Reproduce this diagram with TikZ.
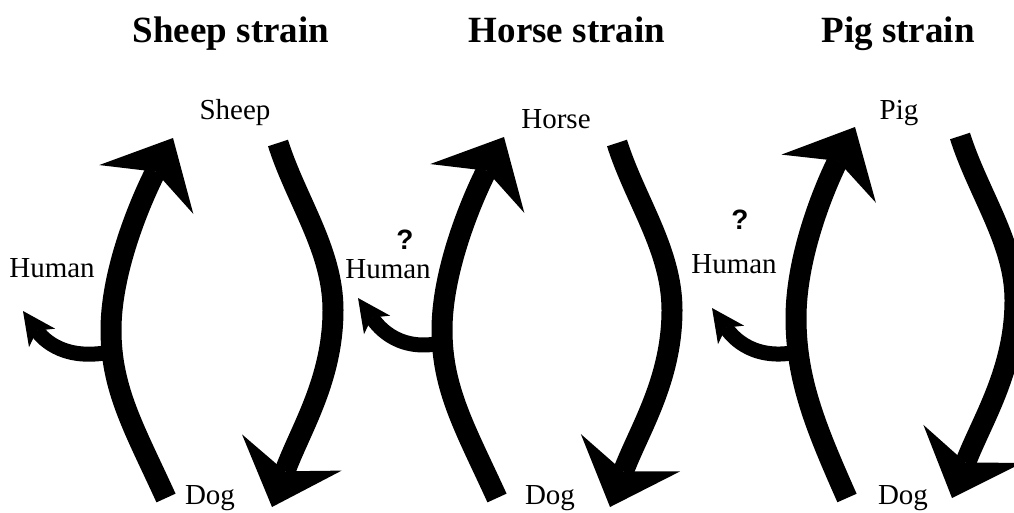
\documentclass[tikz,border=0pt]{standalone}
\usepackage{fontspec}
\setmainfont{Liberation Serif}
\newfontfamily\qfont{Liberation Sans}
\usetikzlibrary{arrows.meta}
\begin{document}
\begin{tikzpicture}[x=1pt,y=-1pt,
  title/.style={font=\fontsize{37}{40}\selectfont\bfseries, anchor=base, inner sep=0pt},
  lab/.style={font=\fontsize{29}{32}\selectfont, anchor=base, inner sep=0pt},
  qm/.style={font=\qfont\bfseries\fontsize{28}{30}\selectfont, anchor=base, inner sep=0pt},
  bigarrow/.style={line width=21pt, -{Stealth[length=58pt,width=106pt,inset=20pt,line width=0pt]}},
  smallarrow/.style={line width=15pt, -{Stealth[length=33pt,width=32pt,inset=9pt,line width=0pt]}}]
\useasboundingbox (0,0) rectangle (1014,512);
\clip (0,0) rectangle (1014,512);

% ---------- Panel 1: Sheep strain
\node[title] (t1) at (231,42) {Sheep strain};
\node[lab] (sheep) at (235,119) {Sheep};
\node[lab] (hum1) at (52,277) {Human};
\node[lab] (dog1) at (210,504) {Dog};
\coordinate (u1a) at (166,498);
\coordinate (u1m) at (111,330);
\coordinate (u1b) at (173,138);
\coordinate (w1a) at (278,143);
\coordinate (w1m) at (333,310);
\coordinate (w1b) at (272,507);
\coordinate (h1a) at (110,352);
\coordinate (h1b) at (23,311);
\draw[smallarrow] (h1a) .. controls (60,362) and (40,335) .. (h1b);
\draw[bigarrow] (u1a) .. controls (135,430) and (111,390) .. (u1m)
                      .. controls (111,265) and (146,190) .. (u1b);
\draw[bigarrow] (w1a) .. controls (296,200) and (333,250) .. (w1m)
                      .. controls (333,380) and (300,430) .. (w1b);

% ---------- Panel 2: Horse strain
\node[title] (t2) at (567,42) {Horse strain};
\node[lab] (horse) at (556,128) {Horse};
\node[lab] (hum2) at (388,278) {Human};
\node[qm] (q2) at (405,249) {?};
\node[lab] (dog2) at (550,504) {Dog};
\coordinate (u2a) at (497,498);
\coordinate (u2m) at (442,330);
\coordinate (u2b) at (504,137);
\coordinate (w2a) at (617,143);
\coordinate (w2m) at (672,310);
\coordinate (w2b) at (610,507);
\coordinate (h2a) at (441,343);
\coordinate (h2b) at (358,298);
\draw[smallarrow] (h2a) .. controls (395,353) and (375,322) .. (h2b);
\draw[bigarrow] (u2a) .. controls (466,430) and (442,390) .. (u2m)
                      .. controls (442,265) and (477,189) .. (u2b);
\draw[bigarrow] (w2a) .. controls (635,200) and (672,250) .. (w2m)
                      .. controls (672,380) and (639,430) .. (w2b);

% ---------- Panel 3: Pig strain
\node[title] (t3) at (898,42) {Pig strain};
\node[lab] (pig) at (899,119) {Pig};
\node[lab] (hum3) at (734,273) {Human};
\node[qm] (q3) at (740,229) {?};
\node[lab] (dog3) at (903,504) {Dog};
\coordinate (u3a) at (847,498);
\coordinate (u3m) at (796,318);
\coordinate (u3b) at (855,127);
\coordinate (w3a) at (960,136);
\coordinate (w3m) at (1015,300);
\coordinate (w3b) at (952,498);
\coordinate (h3a) at (797,352);
\coordinate (h3b) at (712,308);
\draw[smallarrow] (h3a) .. controls (749,362) and (729,332) .. (h3b);
\draw[bigarrow] (u3a) .. controls (816,428) and (796,380) .. (u3m)
                      .. controls (796,252) and (828,180) .. (u3b);
\draw[bigarrow] (w3a) .. controls (978,193) and (1015,243) .. (w3m)
                      .. controls (1015,370) and (982,420) .. (w3b);
\end{tikzpicture}
\end{document}
